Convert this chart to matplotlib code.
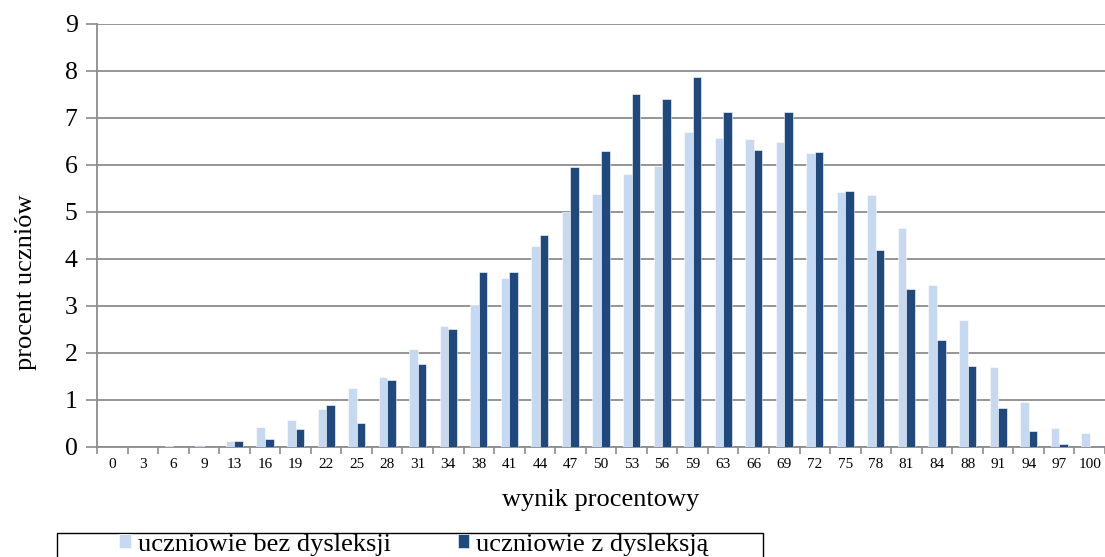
import numpy as np
import matplotlib.pyplot as plt
from matplotlib.patches import Rectangle

# wyniki (procent) i odsetek uczniow
wynik = [0, 3, 6, 9, 13, 16, 19, 22, 25, 28, 31, 34, 38, 41, 44, 47, 50,
         53, 56, 59, 63, 66, 69, 72, 75, 78, 81, 84, 88, 91, 94, 97, 100]
bez_dysleksji = [0, 0, 0.02, 0.05, 0.13, 0.42, 0.57, 0.8, 1.25, 1.48, 2.08,
                 2.58, 3.02, 3.6, 4.27, 5.0, 5.38, 5.8, 5.97, 6.7, 6.57, 6.55,
                 6.48, 6.25, 5.42, 5.37, 4.65, 3.44, 2.7, 1.7, 0.95, 0.41, 0.29]
z_dysleksja = [0, 0, 0, 0, 0.13, 0.17, 0.38, 0.9, 0.5, 1.43, 1.77, 2.52,
               3.72, 3.72, 4.52, 5.95, 6.3, 7.5, 7.4, 7.87, 7.13, 6.32, 7.13,
               6.28, 5.44, 4.19, 3.36, 2.27, 1.73, 0.84, 0.35, 0.07, 0]

light = '#c6d9f1'
dark = '#1f497d'
grey = '#8c8c8c'

plt.rcParams['font.family'] = ['Liberation Serif', 'DejaVu Serif']

fig = plt.figure(figsize=(11.05, 5.57), dpi=100)
ax = fig.add_axes([0.0878, 0.1975, 0.9122, 0.7595])

x = np.arange(len(wynik))
w = 0.28
ax.bar(x - w / 2, bez_dysleksji, w, color=light, edgecolor='white',
       linewidth=0.4, label='uczniowie bez dysleksji', zorder=3)
ax.bar(x + w / 2, z_dysleksja, w, color=dark, edgecolor='white',
       linewidth=0.4, label='uczniowie z dysleksją', zorder=3)

ax.set_xlim(-0.5, len(wynik) - 0.5)
ax.set_ylim(0, 9)
ax.set_yticks(range(10))
ax.yaxis.grid(True, color=grey, linewidth=1.3, zorder=0)
ax.set_axisbelow(True)

ax.set_xticks(x)
ax.set_xticklabels(wynik, fontsize=11)
ax.set_xticks(np.arange(len(wynik) + 1) - 0.5, minor=True)
ax.tick_params(axis='x', which='major', length=0, pad=8)
ax.tick_params(axis='x', which='minor', length=5, color=grey, width=1.2)
ax.tick_params(axis='y', length=8, color=grey, width=1.2, labelsize=18.5, pad=6)

for s in ['top', 'right']:
    ax.spines[s].set_visible(False)
for s in ['left', 'bottom']:
    ax.spines[s].set_color(grey)
    ax.spines[s].set_linewidth(1.3)

ax.set_xlabel('wynik procentowy', fontsize=19, labelpad=13)
ax.set_ylabel('procent uczniów', fontsize=19)
ax.yaxis.set_label_coords(-0.06, 0.39)

# legenda z szeroka ramka jak w oryginale
leg = fig.legend(loc='center left', bbox_to_anchor=(0.108, 0.022), ncol=2,
                 fontsize=19, frameon=False,
                 handlelength=0.45, handleheight=0.45, handletextpad=0.25,
                 columnspacing=2.53, borderpad=0, borderaxespad=0)
fig.patches.append(Rectangle((0.0516, -0.03), 0.639, 0.0731,
                             transform=fig.transFigure, fill=False,
                             edgecolor='black', linewidth=1.0))

fig.savefig('out.png', dpi=100)
